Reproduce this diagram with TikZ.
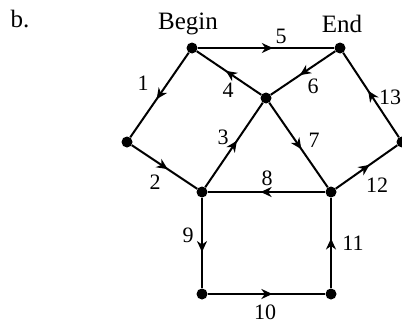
\documentclass[tikz,border=0pt]{standalone}
\usepackage{fontspec}
\setmainfont{Liberation Serif}
\usetikzlibrary{arrows.meta,decorations.markings}
\begin{document}
\begin{tikzpicture}[x=1pt,y=-1pt,
  vtx/.style={circle,fill=black,inner sep=0pt,minimum size=11pt},
  edge/.style={line width=2pt,postaction={decorate},
    decoration={markings,mark=at position #1 with {\arrow{Stealth[length=11pt,width=10pt,inset=3.5pt]}}}},
  edge/.default=0.55,
  word/.style={font=\fontsize{25}{28}\selectfont,inner sep=0pt},
  num/.style={font=\fontsize{22}{25}\selectfont,inner sep=0pt}]
\clip (0,0) rectangle (402,324);
\useasboundingbox (0,0) rectangle (402,324);
\node[word] (lb) at (20,19) {b.};
\node[vtx] (B) at (192,48) {};
\node[vtx] (E) at (340,48) {};
\node[vtx] (C) at (266,98) {};
\node[vtx] (L) at (127,142) {};
\node[vtx] (R) at (402,142) {};
\node[vtx] (P) at (202,192) {};
\node[vtx] (Q) at (331,192) {};
\node[vtx] (S) at (202,294) {};
\node[vtx] (T) at (331,294) {};
\draw[edge] (B) -- (E);
\draw[edge] (B) -- (L);
\draw[edge] (C) -- (B);
\draw[edge] (E) -- (C);
\draw[edge] (R) -- (E);
\draw[edge] (P) -- (C);
\draw[edge] (C) -- (Q);
\draw[edge] (L) -- (P);
\draw[edge] (Q) -- (P);
\draw[edge] (Q) -- (R);
\draw[edge=0.6] (P) -- (S);
\draw[edge] (T) -- (Q);
\draw[edge] (S) -- (T);
\node[word] (lBegin) at (188,24) {Begin};
\node[word] (lEnd) at (342,24) {End};
\node[num] (n5) at (281,36) {5};
\node[num] (n1) at (143,83) {1};
\node[num] (n4) at (228,90) {4};
\node[num] (n6) at (313,86) {6};
\node[num] (n13) at (390,97) {13};
\node[num] (n3) at (223,137) {3};
\node[num] (n7) at (314,140) {7};
\node[num] (n2) at (155,182) {2};
\node[num] (n8) at (267,178) {8};
\node[num] (n12) at (377,185) {12};
\node[num] (n9) at (188,235) {9};
\node[num] (n11) at (353,243) {11};
\node[num] (n10) at (265,312) {10};
\end{tikzpicture}
\end{document}
